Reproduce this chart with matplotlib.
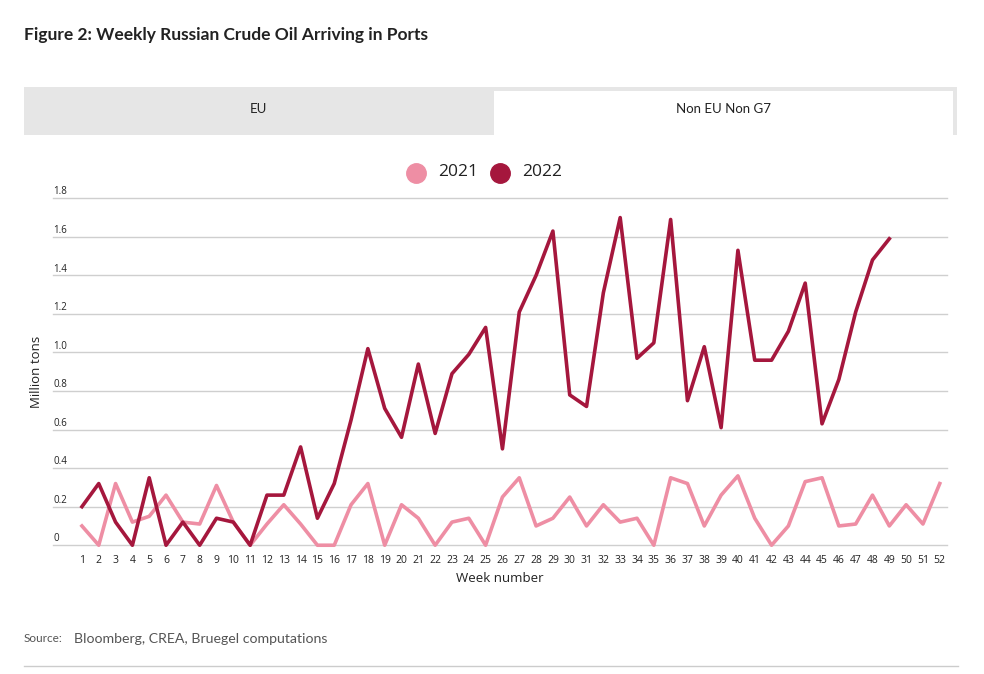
import matplotlib
matplotlib.use('Agg')
import matplotlib.pyplot as plt
from matplotlib.patches import Rectangle
from matplotlib.lines import Line2D

weeks = list(range(1, 53))
y2021 = [0.10, 0.00, 0.32, 0.12, 0.15, 0.26, 0.12, 0.11, 0.31, 0.12,
         0.00, 0.11, 0.21, 0.11, 0.00, 0.00, 0.21, 0.32, 0.00, 0.21,
         0.14, 0.00, 0.12, 0.14, 0.00, 0.25, 0.35, 0.10, 0.14, 0.25,
         0.10, 0.21, 0.12, 0.14, 0.00, 0.35, 0.32, 0.10, 0.26, 0.36,
         0.14, 0.00, 0.10, 0.33, 0.35, 0.10, 0.11, 0.26, 0.10, 0.21,
         0.11, 0.32]
y2022 = [0.20, 0.32, 0.12, 0.00, 0.35, 0.00, 0.12, 0.00, 0.14, 0.12,
         0.00, 0.26, 0.26, 0.51, 0.14, 0.32, 0.65, 1.02, 0.71, 0.56,
         0.94, 0.58, 0.89, 0.99, 1.13, 0.50, 1.21, 1.40, 1.63, 0.78,
         0.72, 1.31, 1.70, 0.97, 1.05, 1.69, 0.75, 1.03, 0.61, 1.53,
         0.96, 0.96, 1.11, 1.36, 0.63, 0.86, 1.21, 1.48, 1.59]
yticks = [0, 0.2, 0.4, 0.6, 0.8, 1.0, 1.2, 1.4, 1.6, 1.8]
ytick_labels = ['0', '0.2', '0.4', '0.6', '0.8', '1.0', '1.2', '1.4', '1.6', '1.8']

pink = '#ee8ea4'
dark = '#a5173d'
narrow = ['Lato', 'DejaVu Sans']
body = ['Open Sans', 'DejaVu Sans']

W, H = 984, 674
fig = plt.figure(figsize=(W / 100, H / 100), dpi=100)

def fx(px):
    return px / W

def fy(py):
    return 1 - py / H

# title
fig.text(fx(24), fy(35), 'Figure 2: Weekly Russian Crude Oil Arriving in Ports',
         family=narrow, fontweight='bold', fontsize=12.5, color='#222222',
         va='center', ha='left')

# tabs
fig.patches.append(Rectangle((fx(24), fy(135)), fx(957) - fx(24), fy(87) - fy(135),
                             transform=fig.transFigure, facecolor='#e6e6e6',
                             edgecolor='none', zorder=0))
fig.patches.append(Rectangle((fx(494), fy(136)), fx(953) - fx(494), fy(91) - fy(136),
                             transform=fig.transFigure, facecolor='white',
                             edgecolor='none', zorder=1))
fig.text(fx(258), fy(109), 'EU', family=narrow, fontsize=9.5, color='#222222',
         ha='center', va='center')
fig.text(fx(723), fy(109), 'Non EU Non G7', family=narrow, fontsize=9.5,
         color='#222222', ha='center', va='center')

# main axes
ax = fig.add_axes([fx(53), fy(546), fx(947) - fx(53), fy(198.3) - fy(546)])
ax.plot(weeks, y2021, color=pink, lw=2.6, clip_on=False, zorder=3)
ax.plot(weeks[:len(y2022)], y2022, color=dark, lw=2.6, clip_on=False, zorder=4)
ax.set_xlim(-0.72, 52.43)
ax.set_ylim(-0.004, 1.8)
for s in ax.spines.values():
    s.set_visible(False)
ax.set_yticks(yticks)
ax.set_yticklabels([])
ax.tick_params(left=False, bottom=False)
ax.grid(axis='y', color='#cfcfcf', lw=1)
for gl in ax.get_ygridlines():
    gl.set_clip_on(False)
ax.set_axisbelow(True)
ax.set_xticks(weeks)
ax.set_xticklabels([str(w) for w in weeks], family=body, fontsize=7.5,
                   color='#222222')
ax.tick_params(axis='x', pad=3)
for v, lab in zip(yticks, ytick_labels):
    ax.text(0.0, v + 0.02, lab, transform=ax.get_yaxis_transform(),
            family=body, fontsize=7, color='#222222', ha='left', va='baseline')
ax.set_xlabel('Week number', family=body, fontsize=9.5, color='#222222', labelpad=4)
fig.text(fx(36), fy(372), 'Million tons', family=body, fontsize=9.5,
         color='#222222', rotation=90, ha='center', va='center')

# legend
for cx, tx, col, lab in [(416, 438, pink, '2021'), (500, 522, dark, '2022')]:
    fig.add_artist(Line2D([fx(cx)], [fy(173)], ls='none', marker='o', markersize=14,
                          color=col, transform=fig.transFigure))
    fig.text(fx(tx), fy(172), lab, family=body, fontsize=12.5, color='#222222',
             ha='left', va='center')

# source and bottom rule
fig.text(fx(24), fy(639), 'Source:', family=narrow, fontsize=8.5, color='#555555',
         ha='left', va='center')
fig.text(fx(74), fy(639), 'Bloomberg, CREA, Bruegel computations', family=narrow,
         fontsize=10.2, color='#555555', ha='left', va='center')
fig.add_artist(Line2D([fx(24), fx(958)], [fy(666), fy(666)], color='#cccccc', lw=1,
                      transform=fig.transFigure))

fig.savefig('out.png', dpi=100)
